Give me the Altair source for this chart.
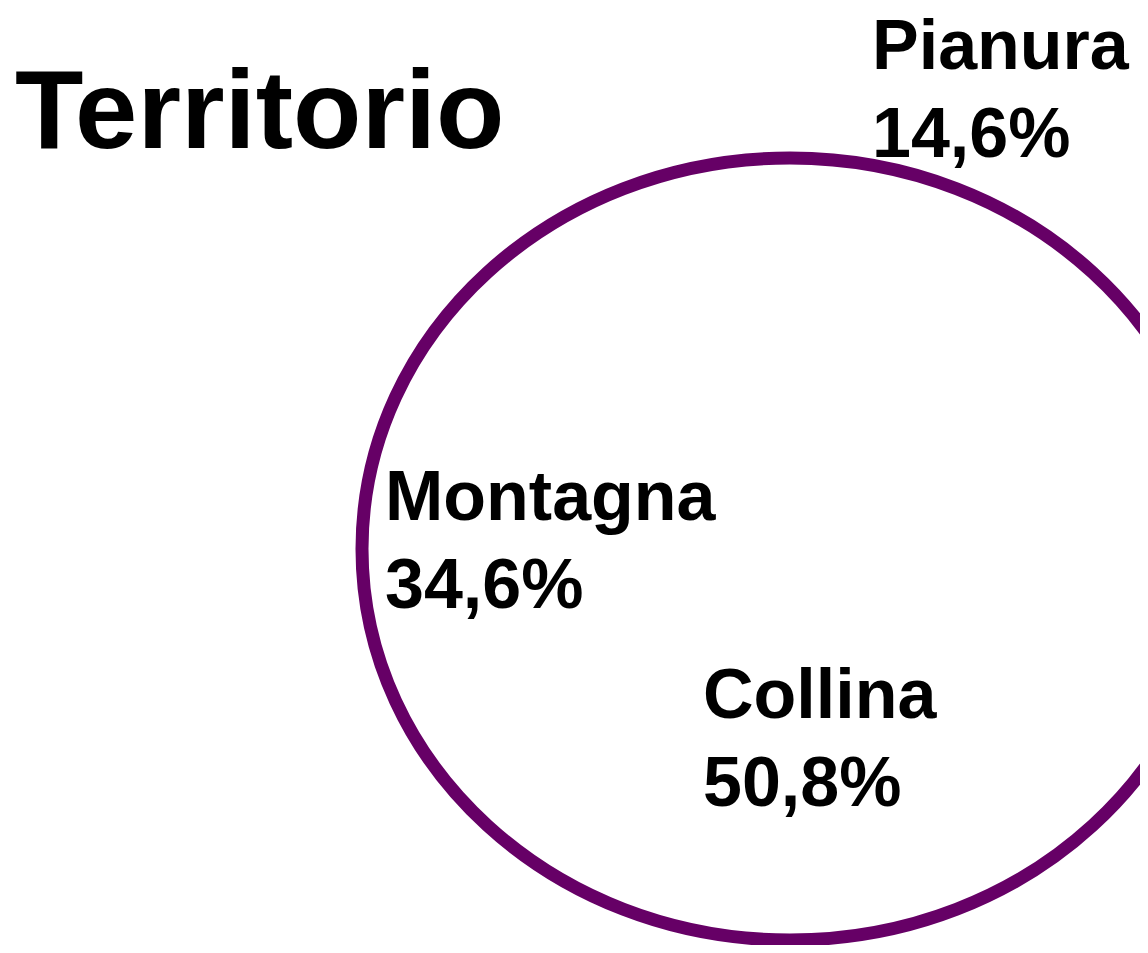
import altair as alt
import pandas as pd

# ---- data ----
categories = ["Pianura", "Collina", "Montagna"]
values = [14.6, 50.8, 34.6]
title_text = "Territorio"

# ---- layout (annotation placement, pixels inside the view) ----
label_x = [864, 695, 377]
label_y = [61, 710, 512]
center_x, center_y = 782, 541
rx, ry = 428, 391
purple = "#660066"
font = "Liberation Sans"

df = pd.DataFrame({
    "categoria": categories,
    "valore": values,
    "label": [f"{c}\n{v:.1f}".replace(".", ",") + "%" for c, v in zip(categories, values)],
    "lx": label_x,
    "ly": label_y,
})
df["order"] = range(len(df))

# pie slices (white, no visible borders: only the outer outline is shown)
pie = alt.Chart(df).mark_arc(outerRadius=ry, fill="white", strokeWidth=0).encode(
    theta=alt.Theta("valore:Q", stack=True),
    order=alt.Order("order:Q"),
    x=alt.value(center_x),
    y=alt.value(center_y),
)

# elliptical outline of the pie
ellipse_path = f"M -1 0 A 1 {ry / rx:.4f} 0 1 0 1 0 A 1 {ry / rx:.4f} 0 1 0 -1 0 Z"
outline = alt.Chart(pd.DataFrame({"k": [1]})).mark_point(
    shape=ellipse_path,
    size=(2 * rx) ** 2,
    filled=False,
    stroke=purple,
    strokeWidth=13,
    opacity=1,
).encode(x=alt.value(center_x), y=alt.value(center_y))

labels = alt.Chart(df).mark_text(
    font=font,
    fontSize=70,
    fontWeight="bold",
    align="left",
    baseline="alphabetic",
    lineBreak="\n",
    lineHeight=88,
    color="black",
).encode(
    x=alt.X("lx:Q", scale=None),
    y=alt.Y("ly:Q", scale=None),
    text="label:N",
)

title = alt.Chart(pd.DataFrame({"t": [title_text]})).mark_text(
    font=font,
    fontSize=112,
    fontWeight="bold",
    align="left",
    baseline="alphabetic",
    color="black",
).encode(x=alt.value(7), y=alt.value(140), text="t:N")

chart = alt.layer(pie, outline, labels, title).properties(
    width=1132,
    height=937,
    padding=0,
    autosize=alt.AutoSizeParams(type="none"),
    background="white",
).configure_view(strokeWidth=0)

chart.save("out.html", embed_options={"renderer": "svg", "actions": False})
